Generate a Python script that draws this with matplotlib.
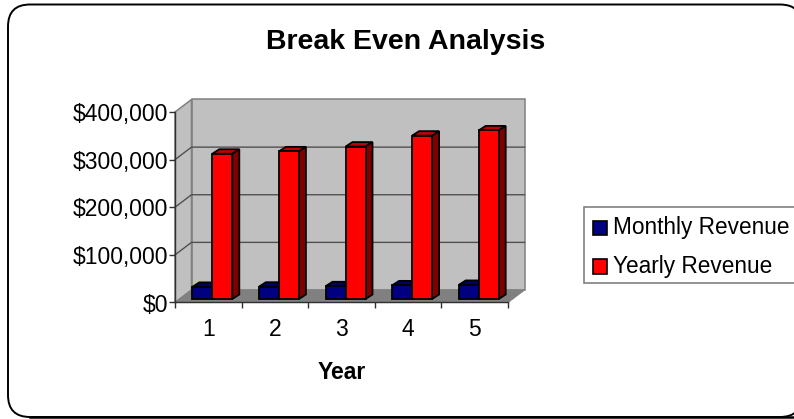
import matplotlib
matplotlib.use("Agg")
import matplotlib.pyplot as plt
from matplotlib.patches import Polygon, Patch, FancyBboxPatch, Rectangle

plt.rcParams['font.family'] = ['Liberation Sans', 'DejaVu Sans']

years = ['1', '2', '3', '4', '5']
monthly_revenue = [25400, 25800, 26700, 28600, 29500]
yearly_revenue = [305000, 310000, 320000, 343000, 354000]
y_ticks = [0, 100000, 200000, 300000, 400000]
y_labels = ['$0', '$100,000', '$200,000', '$300,000', '$400,000']
title = 'Break Even Analysis'
x_title = 'Year'
series_names = ['Monthly Revenue', 'Yearly Revenue']

W, H = 794, 419
L, R, T, B = 175, 508, 112, 302.5
fig = plt.figure(figsize=(W / 100, H / 100), dpi=100, facecolor='white')

# outer rounded frame
bg = fig.add_axes([0, 0, 1, 1])
bg.set_xlim(0, W); bg.set_ylim(H, 0); bg.axis('off')
rad = 22
bg.add_patch(FancyBboxPatch((8 + rad, 4.5 + rad), 802 - 8 - 2 * rad, 412.5 - 2 * rad,
                            boxstyle=f'round,pad={rad},rounding_size={rad}',
                            fc='white', ec='black', lw=1.4, clip_on=False))
bg.plot([rad + 8, 820], [416.7, 416.7], color='black', lw=1.8)
# legend frame, which runs off the right edge as in the reference
bg.add_patch(Rectangle((583.5, 207), 230, 76, fc='white', ec='#808080', lw=1.2))

ax = fig.add_axes([L / W, 1 - B / H, (R - L) / W, (B - T) / H])
ax.set_xlim(0, 5)
ax.set_ylim(0, 400000)
ax.patch.set_visible(False)

# oblique depth expressed in data units
px_x = (R - L) / 5
px_y = (B - T) / 400000
wall_dx, wall_dy = 16.5 / px_x, 12.5 / px_y
base_dx, base_dy = 4 / px_x, 3.5 / px_y
bar_dx, bar_dy = 7 / px_x, 4.5 / px_y
bar_w = 20 / px_x

wall_c, floor_c, edge_c = '#C0C0C0', '#808080', '#808080'
top = 400000
ax.add_patch(Polygon([(wall_dx, wall_dy), (5 + wall_dx, wall_dy), (5 + wall_dx, top + wall_dy), (wall_dx, top + wall_dy)],
                     fc=wall_c, ec=edge_c, lw=1.1, clip_on=False, zorder=1))
ax.add_patch(Polygon([(0, 0), (wall_dx, wall_dy), (wall_dx, top + wall_dy), (0, top)],
                     fc=wall_c, ec=edge_c, lw=1.1, clip_on=False, zorder=1))
ax.add_patch(Polygon([(0, 0), (5, 0), (5 + wall_dx, wall_dy), (wall_dx, wall_dy)],
                     fc=floor_c, ec=edge_c, lw=0.8, clip_on=False, zorder=1))
for v in y_ticks[1:-1]:
    ax.plot([0, wall_dx, 5 + wall_dx], [v, v + wall_dy, v + wall_dy], color='#505050', lw=1.0,
            clip_on=False, zorder=2)


def bar3d(x0, value, front, tp, side, z):
    y0 = base_dy
    y1 = value + base_dy
    ax.bar(x0, value, width=bar_w, bottom=y0, align='edge', color=front, edgecolor='black',
           linewidth=1.3, clip_on=False, zorder=z + 1)
    ax.add_patch(Polygon([(x0, y1), (x0 + bar_w, y1), (x0 + bar_w + bar_dx, y1 + bar_dy), (x0 + bar_dx, y1 + bar_dy)],
                         fc=tp, ec='black', lw=1.3, clip_on=False, zorder=z))
    ax.add_patch(Polygon([(x0 + bar_w, y0), (x0 + bar_w + bar_dx, y0 + bar_dy), (x0 + bar_w + bar_dx, y1 + bar_dy), (x0 + bar_w, y1)],
                         fc=side, ec='black', lw=1.3, clip_on=False, zorder=z))


for i in range(len(years)):
    c = i + 0.5 + base_dx
    bar3d(c - bar_w, monthly_revenue[i], '#000080', '#000060', '#000040', 3)
    bar3d(c, yearly_revenue[i], '#FF0000', '#C00000', '#800000', 5)

for s in ['top', 'right']:
    ax.spines[s].set_visible(False)
for s in ['left', 'bottom']:
    ax.spines[s].set_color('#303030')
    ax.spines[s].set_linewidth(1.0)
    ax.spines[s].set_zorder(8)

ax.set_yticks(y_ticks, y_labels)
ax.set_xticks(range(6), [''] * 6)
ax.set_xticks([i + 0.5 for i in range(5)], years, minor=True)
ax.tick_params(axis='x', which='major', length=4, width=1, color='#303030')
ax.tick_params(axis='x', which='minor', length=0, pad=11.5, labelsize=16.5)
ax.tick_params(axis='y', length=4, width=1, color='#303030', pad=1, labelsize=16.5)

fig.text(405.5 / W, 1 - 42 / H, title, ha='center', va='center', fontsize=20.5, fontweight='bold')
fig.text(342 / W, 1 - 372 / H, x_title, ha='center', va='center', fontsize=16.5, fontweight='bold')

handles = [Patch(fc='#000080', ec='black', lw=1.2), Patch(fc='#FF0000', ec='black', lw=1.2)]
leg = fig.legend(handles, series_names, loc='upper left', bbox_to_anchor=(583 / W, 1 - 206 / H),
                 borderaxespad=0, fontsize=16.3, frameon=False,
                 handlelength=0.6, handleheight=0.58, handletextpad=0.27, labelspacing=0.68, borderpad=0.45)
for h in leg.legend_handles:
    h.set_y(h.get_y() - 1.4)

fig.savefig('out.png', dpi=100, facecolor='white')
